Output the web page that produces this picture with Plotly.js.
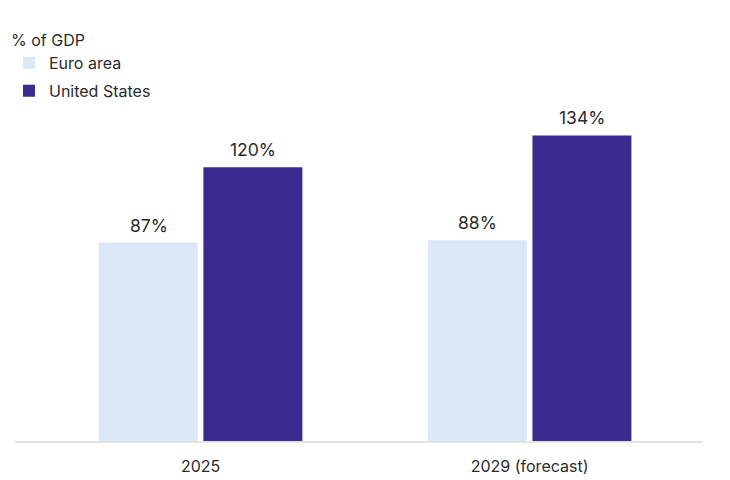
<!DOCTYPE html>
<html>
<head>
<meta charset="utf-8">
<script src="https://cdn.plot.ly/plotly-3.0.1.min.js"></script>
<style>
  html, body { margin: 0; padding: 0; background: #fff; }
  #chart { width: 730px; height: 480px; }
</style>
</head>
<body>
<div id="chart"></div>
<script>
// debt as % of GDP
const CATEGORIES   = [ '2025', '2029 (forecast)' ];
const SERIES_NAMES = [ 'Euro area', 'United States' ];
const EURO_AREA    = [ 87, 88 ];
const US           = [ 120, 134 ];
const COLORS       = [ '#dbe6f6', '#3b2a8f' ];

const FONT      = 'Inter, "Open Sans", sans-serif';
const TEXT_COL  = '#2b2b2b';
const BAR_SHIFT = 52;   // half a bar slot, px

const series = [ EURO_AREA, US ];

const traces = series.map( function( vals, n ) {
	return {
		type  : 'bar',
		name  : SERIES_NAMES[ n ],
		legendgroup: 'g' + n,
		x     : CATEGORIES,
		y     : vals,
		marker: { color: COLORS[ n ] },
		hoverinfo: 'x+y+name'
	};
} );

// value labels above each bar (x as category index)
const annotations = [];
series.forEach( function( vals, n ) {
	vals.forEach( function( v, i ) {
		annotations.push( {
			x: i, y: v, xref: 'x', yref: 'y',
			text: v + '%', showarrow: false,
			xshift: n === 0 ? -BAR_SHIFT : BAR_SHIFT,
			yanchor: 'bottom', yshift: 5,
			font: { family: FONT, size: 17.5, color: TEXT_COL }
		} );
	} );
} );

const layout = {
	width : 730,
	height: 480,
	margin: { l: 0, r: 0, t: 0, b: 39 },
	paper_bgcolor: '#ffffff',
	plot_bgcolor : '#ffffff',
	font  : { family: FONT, color: TEXT_COL },
	barmode: 'group',
	bargap: 0.364,
	bargroupgap: 0.054,
	showlegend: true,
	legend: {
		x: 0.0123, y: 0.943, xanchor: 'left', yanchor: 'top',
		orientation: 'v',
		traceorder: 'grouped',
		title: { text: '% of GDP', font: { family: FONT, size: 16, color: TEXT_COL } },
		font : { family: FONT, size: 16, color: TEXT_COL },
		itemwidth: 30,
		tracegroupgap: 4,
		bgcolor: 'rgba(0,0,0,0)'
	},
	xaxis: {
		type: 'category',
		domain: [ 15 / 730, 703 / 730 ],
		range: [ -0.564, 1.527 ],
		showgrid: false,
		zeroline: false,
		showline: true,
		linecolor: '#e3e3e3',
		linewidth: 1.5,
		ticks: '',
		ticklabelstandoff: 10,
		tickfont: { family: FONT, size: 16, color: TEXT_COL },
		fixedrange: true
	},
	yaxis: {
		range: [ 0, 193.4 ],
		showgrid: false,
		zeroline: false,
		showline: false,
		showticklabels: false,
		ticks: '',
		fixedrange: true
	},
	annotations: annotations
};

Plotly.newPlot( 'chart', traces, layout, { displayModeBar: false } );
</script>
</body>
</html>
